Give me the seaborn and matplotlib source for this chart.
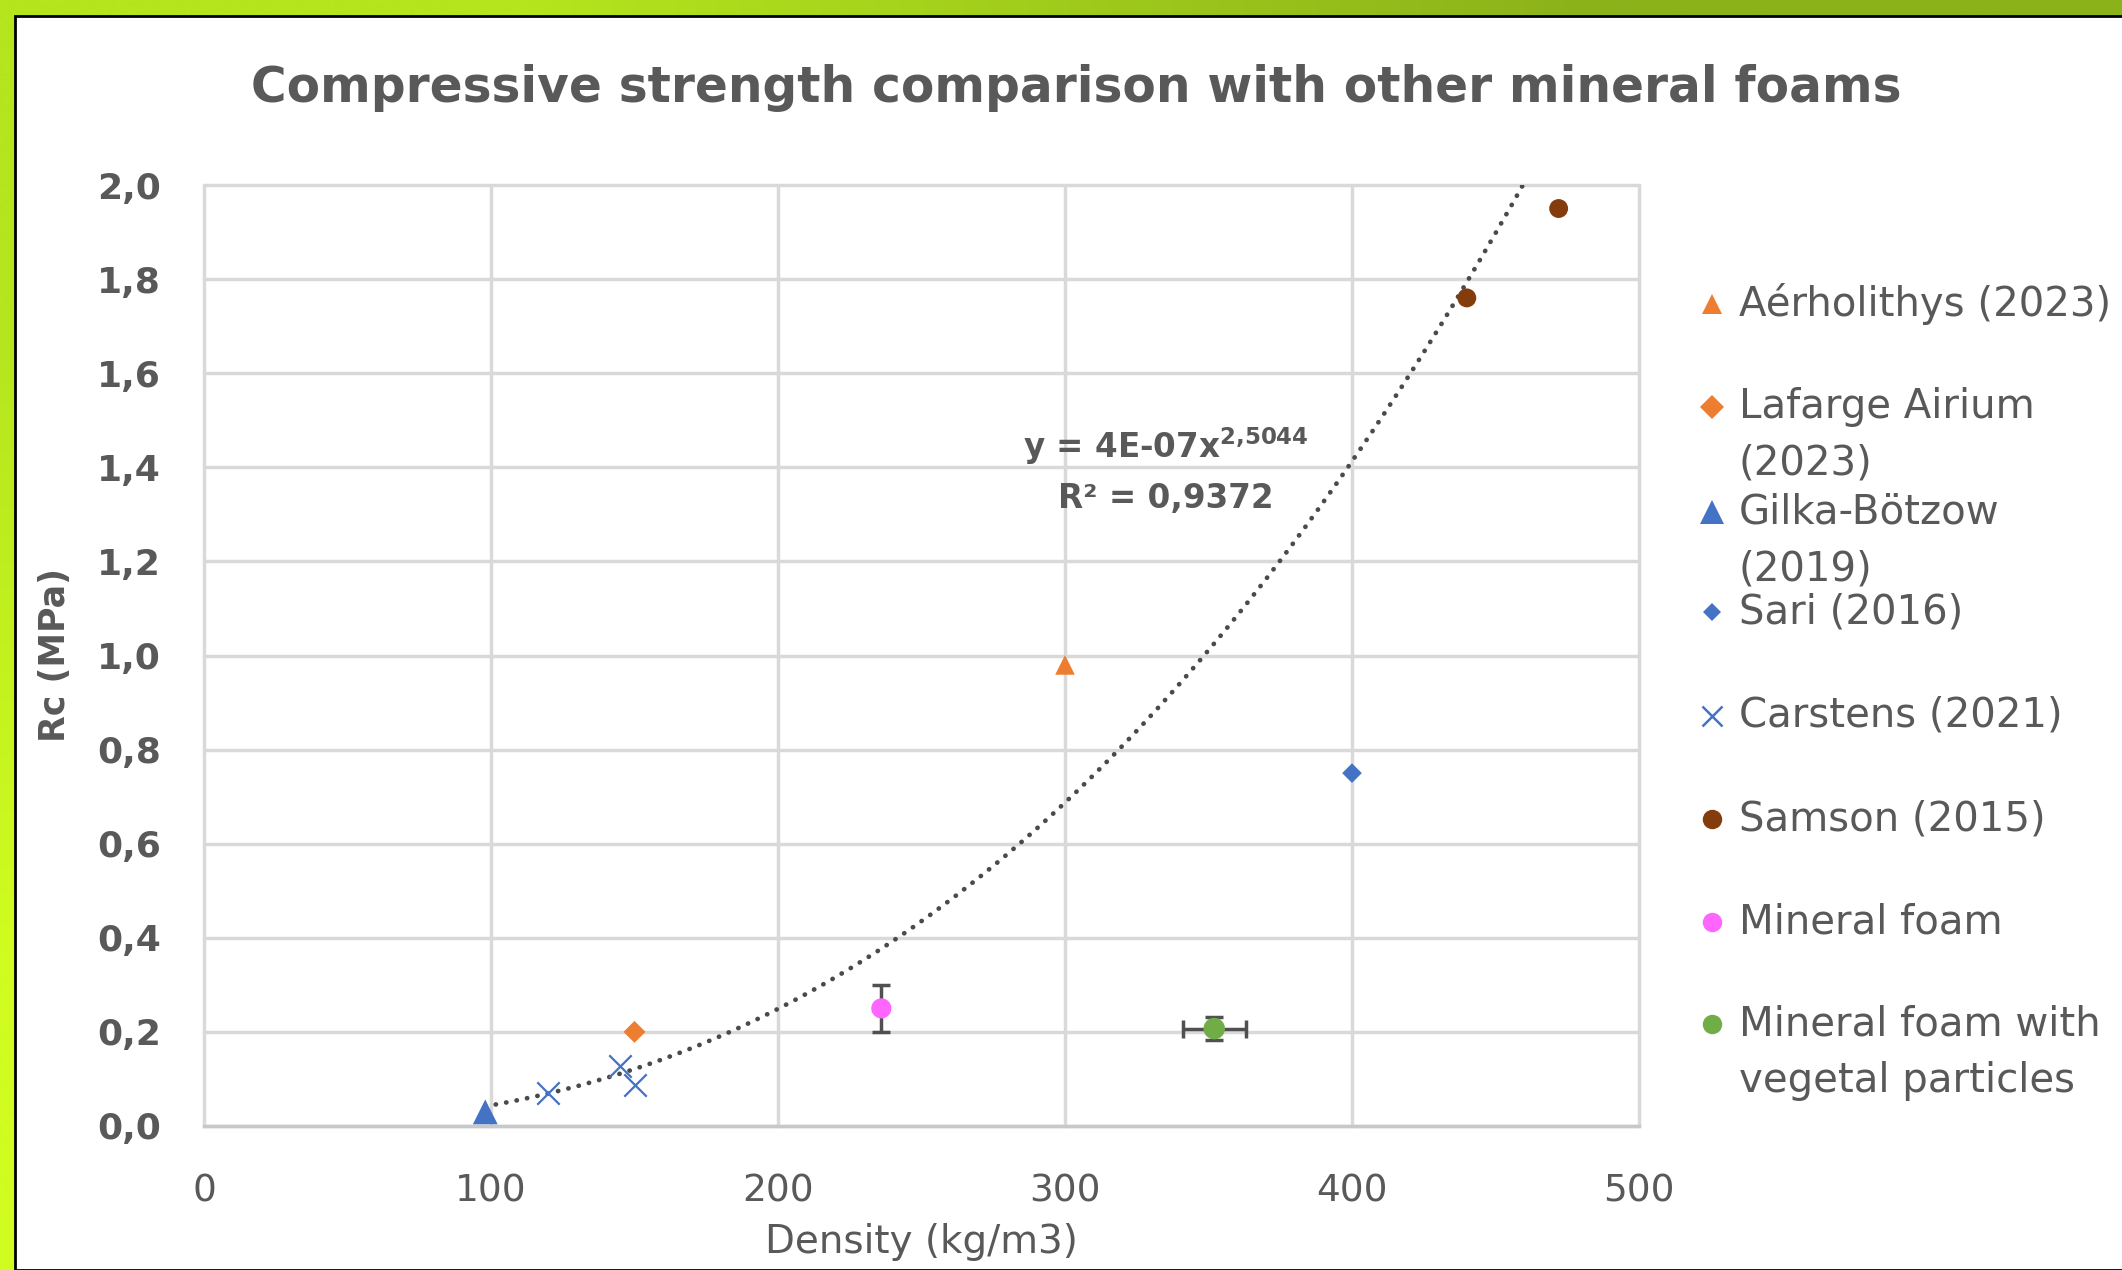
import numpy as np
import matplotlib
matplotlib.use("Agg")
import matplotlib.pyplot as plt
import seaborn as sns
from matplotlib.patches import Rectangle
from matplotlib.lines import Line2D

# ---------------- data ----------------
aer_x = [300];  aer_y = [0.98]
laf_x = [150];  laf_y = [0.20]
gil_x = [98];   gil_y = [0.03]
sari_x = [400]; sari_y = [0.75]
car_x = [120, 145, 150]; car_y = [0.07, 0.127, 0.088]
sam_x = [440, 472];      sam_y = [1.76, 1.95]
mf_x = [236];   mf_y = [0.25];  mf_yerr = [0.05]
mfv_x = [352];  mfv_y = [0.207]; mfv_xerr = [11]; mfv_yerr = [0.024]

# power-law trendline parameters (as displayed: y = 4E-07 x^2,5044)
trend_coef = 4.3e-7
trend_exp = 2.5044

x_ticks = [0, 100, 200, 300, 400, 500]
y_ticks = [0.0, 0.2, 0.4, 0.6, 0.8, 1.0, 1.2, 1.4, 1.6, 1.8, 2.0]
y_labels = ["0,0", "0,2", "0,4", "0,6", "0,8", "1,0", "1,2", "1,4", "1,6", "1,8", "2,0"]

title = "Compressive strength comparison with other mineral foams"
eq_text = r"y = 4E-07x$^{\mathbf{2{,}5044}}$"
r2_text = "R² = 0,9372"

# ---------------- style ----------------
sns.set_theme(style="white")
plt.rcParams["font.family"] = ["DejaVu Sans"]
GRAY = "#595959"

W, H = 2122, 1270
fig = plt.figure(figsize=(W / 100, H / 100), dpi=100)

# green gradient frame
bg = fig.add_axes([0, 0, 1, 1], zorder=-10)
tl = np.array([0xb4, 0xe5, 0x1d]) / 255
tr = np.array([0x8c, 0xb2, 0x1a]) / 255
bl = np.array([0xd0, 0xfc, 0x20]) / 255
br = np.array([0xa8, 0xd0, 0x1c]) / 255
grad = np.array([[tl, tr], [bl, br]])
bg.imshow(grad, extent=[0, 1, 0, 1], aspect="auto", interpolation="bilinear")
bg.set_axis_off()
bg.add_patch(Rectangle((15 / W, 0), 1, 1 - 16 / H, transform=bg.transAxes,
                       facecolor="white", edgecolor="black", lw=2, zorder=5))

# ---------------- plot area ----------------
ax = fig.add_axes([204 / W, 1 - 1126 / H, (1639 - 204) / W, (1126 - 185) / H])
ax.set_facecolor("white")

mk = dict(ax=ax, edgecolor="none", zorder=4, legend=False)
sns.scatterplot(x=aer_x, y=aer_y, marker="^", color="#ED7D31", s=200, **mk)
sns.scatterplot(x=laf_x, y=laf_y, marker="D", color="#ED7D31", s=125, **mk)
sns.scatterplot(x=gil_x, y=gil_y, marker="^", color="#4472C4", s=320, **mk)
sns.scatterplot(x=sari_x, y=sari_y, marker="D", color="#4472C4", s=100, **mk)
sns.scatterplot(x=car_x, y=car_y, marker="x", color="#4472C4", s=260,
                ax=ax, linewidth=1.6, zorder=4, legend=False)
sns.scatterplot(x=sam_x, y=sam_y, marker="o", color="#843C0C", s=185, **mk)

ax.errorbar(mf_x, mf_y, yerr=mf_yerr, fmt="none", ecolor="#505050",
            elinewidth=2.5, capsize=6.5, capthick=2.5, zorder=3)
sns.scatterplot(x=mf_x, y=mf_y, marker="o", color="#FF66FF", s=210, **mk)
ax.errorbar(mfv_x, mfv_y, xerr=mfv_xerr, yerr=mfv_yerr, fmt="none", ecolor="#505050",
            elinewidth=2.5, capsize=6.5, capthick=2.5, zorder=3)
sns.scatterplot(x=mfv_x, y=mfv_y, marker="o", color="#70AD47", s=240, **mk)

# power-law trendline over the literature data range
lit_x = np.array(aer_x + laf_x + gil_x + sari_x + car_x + sam_x, dtype=float)
xx = np.linspace(lit_x.min(), lit_x.max(), 400)
ax.plot(xx, trend_coef * xx ** trend_exp, color="#4a4a4a", lw=3.4,
        linestyle=(0, (0.05, 2.2)), dash_capstyle="round", zorder=2)

ax.text(335, 1.445, eq_text, ha="center", va="center", fontsize=23.5,
        fontweight="bold", color=GRAY, zorder=6)
ax.text(335, 1.333, r2_text, ha="center", va="center", fontsize=23.5,
        fontweight="bold", color=GRAY, zorder=6)

ax.set_xlim(0, 500)
ax.set_ylim(0, 2.0)
ax.set_xticks(x_ticks)
ax.set_xticklabels([str(t) for t in x_ticks])
ax.set_yticks(y_ticks)
ax.set_yticklabels(y_labels, fontweight="bold")
ax.tick_params(axis="x", length=0, pad=34, labelsize=27, labelcolor=GRAY)
ax.tick_params(axis="y", length=0, pad=31, labelsize=26, labelcolor=GRAY)
ax.grid(True, color="#D9D9D9", lw=2.5)
for gl in ax.get_xgridlines() + ax.get_ygridlines():
    gl.set_clip_on(False)
for s in ax.spines.values():
    s.set_visible(False)
ax.spines["bottom"].set_visible(True)
ax.spines["bottom"].set_color("#C8C8C8")
ax.spines["bottom"].set_linewidth(2.5)
ax.set_axisbelow(True)

ax.set_xlabel("Density (kg/m3)", fontsize=28, color=GRAY, labelpad=10)
ax.set_ylabel("Rc (MPa)", fontsize=25, color=GRAY, fontweight="bold", labelpad=18)

fig.text(1076 / W, 1 - 88 / H, title, ha="center", va="center",
         fontsize=35, fontweight="bold", color=GRAY)

# ---------------- legend ----------------
legend_items = [
    (["Aérholithys (2023)"], "^", "#ED7D31", 14, 304),
    (["Lafarge Airium", "(2023)"], "D", "#ED7D31", 12, 407),
    (["Gilka-Bötzow", "(2019)"], "^", "#4472C4", 17, 512),
    (["Sari (2016)"], "D", "#4472C4", 9.5, 612),
    (["Carstens (2021)"], "x", "#4472C4", 15, 716),
    (["Samson (2015)"], "o", "#843C0C", 14, 819),
    (["Mineral foam"], "o", "#FF66FF", 14, 922),
    (["Mineral foam with", "vegetal particles"], "o", "#70AD47", 14, 1024),
]
for lines, m, c, ms, yp in legend_items:
    yf = 1 - yp / H
    if m == "x":
        fig.add_artist(Line2D([1712 / W], [yf], marker=m, color=c, markersize=ms,
                              markeredgewidth=1.8, linestyle="none",
                              transform=fig.transFigure))
    else:
        fig.add_artist(Line2D([1712 / W], [yf], marker=m, color=c, markersize=ms,
                              markeredgewidth=0, linestyle="none",
                              transform=fig.transFigure))
    for i, ln in enumerate(lines):
        fig.text(1739 / W, 1 - (yp + 57 * i) / H, ln, ha="left", va="center",
                 fontsize=29, color=GRAY)

fig.savefig("out.png", dpi=100)
